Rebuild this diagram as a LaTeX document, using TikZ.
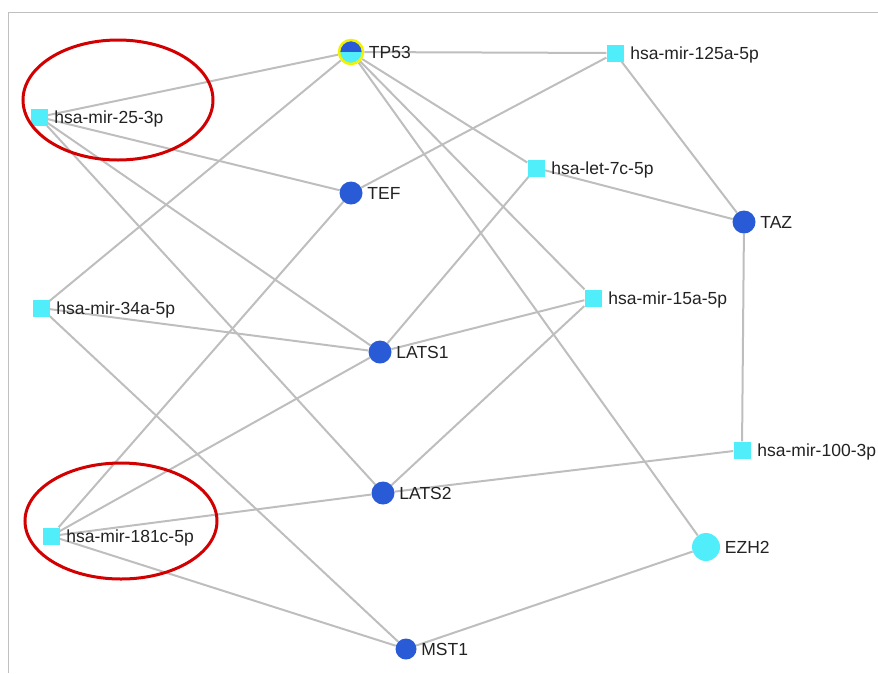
\documentclass[tikz,border=0pt]{standalone}
\usepackage{fontspec}
\setmainfont{Liberation Sans}
\usepackage{tikz}
\usetikzlibrary{backgrounds}
\definecolor{geneblue}{HTML}{2A5BD7}
\definecolor{mircyan}{HTML}{50EEFB}
\definecolor{edgegray}{HTML}{BEBEBE}
\definecolor{framegray}{HTML}{C0C0C0}
\definecolor{txtgray}{HTML}{222222}
\definecolor{ringred}{HTML}{D20000}
\definecolor{hubyellow}{HTML}{F2F200}
\pgfkeys{tikz/lbl/.style={text=txtgray, font=\fontsize{17.5}{21}\selectfont,
                              inner sep=2pt, text height=12.5pt, text depth=0pt}}
\pgfkeys{tikz/glbl/.style={lbl, xshift=2.5pt}}
\pgfkeys{tikz/mlbl/.style={lbl, xshift=4.5pt}}
\pgfkeys{tikz/gene/.style={circle, fill=geneblue, minimum size=23pt, inner sep=0pt}}
\pgfkeys{tikz/mirna/.style={rectangle, fill=mircyan, minimum size=17pt, inner sep=0pt}}
\pgfkeys{tikz/hub/.style={circle, fill=mircyan, draw=hubyellow, line width=2.5pt,
                             minimum size=24pt, inner sep=0pt,
                             path picture={\fill[geneblue] (path picture bounding box.west) rectangle (path picture bounding box.north east);}}}
\pgfkeys{tikz/link/.style={draw=edgegray, line width=2pt}}
\pgfkeys{tikz/ring/.style={draw=ringred, line width=3pt}}

\begin{document}
\begin{tikzpicture}[x=1pt,y=-1pt]
                    \useasboundingbox (0,0) rectangle (878,673);
                    \draw [framegray,line width=1pt] (8,673) -- (8,12) -- (878,12);

                    \node [hub,label={[glbl]right:TP53}] (tp53) at (351,52) {};
                    \node [mirna,label={[mlbl]right:hsa-mir-125a-5p}] (m125a) at (615,53) {};
                    \node [mirna,label={[mlbl]right:hsa-mir-25-3p}] (m25) at (39,117) {};
                    \node [gene,label={[glbl]right:TEF}] (tef) at (351,193) {};
                    \node [mirna,label={[mlbl]right:hsa-let-7c-5p}] (let7c) at (536,168) {};
                    \node [gene,label={[glbl]right:TAZ}] (taz) at (744,222) {};
                    \node [mirna,label={[mlbl]right:hsa-mir-34a-5p}] (m34a) at (41,308) {};
                    \node [mirna,label={[mlbl]right:hsa-mir-15a-5p}] (m15a) at (593,298) {};
                    \node [gene,label={[glbl]right:LATS1}] (lats1) at (380,352) {};
                    \node [mirna,label={[mlbl]right:hsa-mir-100-3p}] (m100) at (742,450) {};
                    \node [gene,label={[glbl]right:LATS2}] (lats2) at (383,493) {};
                    \node [mirna,label={[mlbl]right:hsa-mir-181c-5p}] (m181c) at (51,536) {};
                    \node [gene,fill=mircyan,minimum size=28pt,label={[glbl]right:EZH2}] (ezh2) at (706,547) {};
                    \node [gene,minimum size=21pt,label={[glbl]right:MST1}] (mst1) at (406,649) {};

                    \begin{scope}[on background layer]
                        \draw [link] (tp53) -- (m125a);
                        \draw [link] (tp53) -- (m25);
                        \draw [link] (tp53) -- (m34a);
                        \draw [link] (tp53) -- (let7c);
                        \draw [link] (tp53) -- (m15a);
                        \draw [link] (tp53) -- (ezh2);
                        \draw [link] (m125a) -- (tef);
                        \draw [link] (m125a) -- (taz);
                        \draw [link] (m25) -- (tef);
                        \draw [link] (m25) -- (lats1);
                        \draw [link] (m25) -- (lats2);
                        \draw [link] (let7c) -- (taz);
                        \draw [link] (let7c) -- (lats1);
                        \draw [link] (m34a) -- (lats1);
                        \draw [link] (m34a) -- (mst1);
                        \draw [link] (m15a) -- (lats1);
                        \draw [link] (m15a) -- (lats2);
                        \draw [link] (taz) -- (m100);
                        \draw [link] (m100) -- (lats2);
                        \draw [link] (m181c) -- (tef);
                        \draw [link] (m181c) -- (lats1);
                        \draw [link] (m181c) -- (lats2);
                        \draw [link] (m181c) -- (mst1);
                        \draw [link] (ezh2) -- (mst1);
                    \end{scope}

                    \draw [ring] (118,100) ellipse [x radius=95pt, y radius=60pt];
                    \draw [ring] (121,521) ellipse [x radius=96pt, y radius=58pt];
                \end{tikzpicture}
\end{document}
